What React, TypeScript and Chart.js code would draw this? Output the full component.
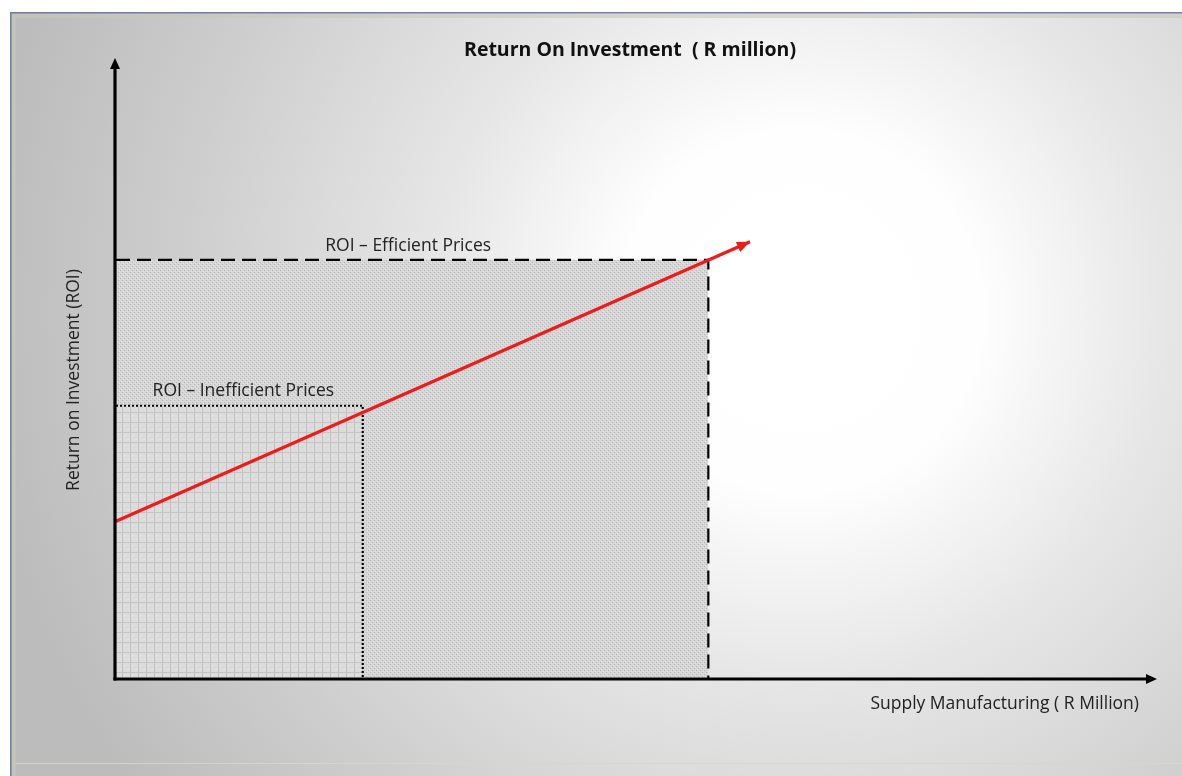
import React, { useEffect, useRef } from "react";
import { Chart, registerables } from "chart.js";
Chart.register(...registerables);

// ---- data (axis units 0..100) ----
const xEfficient = [0, 56.9, 56.9];
const yEfficient = [67.5, 67.5, 0];
const xInefficient = [0, 23.7, 23.7];
const yInefficient = [44, 44, 0];
const xRoiLine = [0, 60.9];
const yRoiLine = [25.4, 70.4];
const axisMin = [0, 0];
const axisMax = [100, 100];

const titleText = "Return On Investment  ( R million)";
const xAxisLabel = "Supply Manufacturing ( R Million)";
const yAxisLabel = "Return on Investment (ROI)";
const efficientLabel = "ROI – Efficient Prices";
const inefficientLabel = "ROI – Inefficient Prices";

const FONT = "'Open Sans', Lato, 'DejaVu Sans', sans-serif";

function makeDotPattern(): CanvasPattern | string {
  const c = document.createElement("canvas");
  c.width = 4;
  c.height = 4;
  const g = c.getContext("2d");
  if (!g) return "#d6d6d6";
  g.fillStyle = "#d6d6d6";
  g.fillRect(0, 0, 4, 4);
  g.fillStyle = "#b8b8b8";
  g.fillRect(0, 0, 1, 1);
  g.fillRect(2, 2, 1, 1);
  g.fillStyle = "#e4e4e4";
  g.fillRect(1, 3, 1, 1);
  g.fillRect(3, 1, 1, 1);
  return g.createPattern(c, "repeat") || "#d6d6d6";
}

function makeGridPattern(): CanvasPattern | string {
  const c = document.createElement("canvas");
  c.width = 8;
  c.height = 10;
  const g = c.getContext("2d");
  if (!g) return "#dcdcdc";
  g.fillStyle = "#dcdcdc";
  g.fillRect(0, 0, 8, 10);
  g.fillStyle = "#c0c0c0";
  g.fillRect(0, 0, 1, 10);
  g.fillStyle = "#c4c4c4";
  g.fillRect(0, 0, 8, 1);
  g.fillStyle = "#cecece";
  g.fillRect(4, 5, 1, 1);
  g.fillStyle = "#e8e8e8";
  g.fillRect(2, 3, 1, 1);
  g.fillRect(6, 7, 1, 1);
  return g.createPattern(c, "repeat") || "#dcdcdc";
}

function toPoints(xs: number[], ys: number[]) {
  return xs.map((x, i) => ({ x, y: ys[i] }));
}

const decorPlugin = {
  id: "decor",
  beforeDraw(chart: any) {
    const { ctx, width, height } = chart;
    ctx.save();
    const cx = 790;
    const cy = 300;
    const grad = ctx.createRadialGradient(cx, cy, 0, cx, cy, 820);
    grad.addColorStop(0, "#ffffff");
    grad.addColorStop(0.22, "#fefefe");
    grad.addColorStop(0.45, "#e6e6e6");
    grad.addColorStop(0.75, "#cecece");
    grad.addColorStop(1, "#bcbcbc");
    ctx.fillStyle = grad;
    ctx.fillRect(0, 0, width, height);
    // frame
    ctx.strokeStyle = "rgba(215,215,200,0.9)";
    ctx.lineWidth = 1;
    ctx.beginPath();
    ctx.moveTo(4.5, height - 12.5);
    ctx.lineTo(width, height - 12.5);
    ctx.stroke();
    ctx.strokeStyle = "rgba(200,200,185,0.6)";
    ctx.lineWidth = 4;
    ctx.beginPath();
    ctx.moveTo(4, height);
    ctx.lineTo(4, 4);
    ctx.lineTo(width, 4);
    ctx.stroke();
    ctx.strokeStyle = "#6f7f9c";
    ctx.lineWidth = 1.5;
    ctx.beginPath();
    ctx.moveTo(0.75, height);
    ctx.lineTo(0.75, 0.75);
    ctx.lineTo(width, 0.75);
    ctx.stroke();
    ctx.restore();
  },
  afterDatasetsDraw(chart: any) {
    const { ctx, chartArea } = chart;
    const { left, right, top, bottom } = chartArea;
    ctx.save();
    ctx.fillStyle = "#000";
    ctx.strokeStyle = "#000";
    ctx.lineWidth = 3.2;
    ctx.lineCap = "butt";
    // y axis
    ctx.beginPath();
    ctx.moveTo(left - 1, bottom + 1.5);
    ctx.lineTo(left - 1, top + 8);
    ctx.stroke();
    ctx.beginPath();
    ctx.moveTo(left - 1, top);
    ctx.lineTo(left - 6, top + 11);
    ctx.lineTo(left + 4, top + 11);
    ctx.closePath();
    ctx.fill();
    // x axis
    ctx.beginPath();
    ctx.moveTo(left - 2.5, bottom);
    ctx.lineTo(right - 8, bottom);
    ctx.stroke();
    ctx.beginPath();
    ctx.moveTo(right, bottom);
    ctx.lineTo(right - 11, bottom - 5);
    ctx.lineTo(right - 11, bottom + 5);
    ctx.closePath();
    ctx.fill();

    // arrow head on ROI line
    const meta = chart.getDatasetMeta(0);
    const pts = meta.data;
    if (pts.length >= 2) {
      const a = pts[pts.length - 2];
      const b = pts[pts.length - 1];
      const ang = Math.atan2(b.y - a.y, b.x - a.x);
      const len = 13;
      const half = 5.5;
      ctx.fillStyle = "#ec1c1c";
      ctx.beginPath();
      ctx.moveTo(b.x, b.y);
      ctx.lineTo(
        b.x - len * Math.cos(ang) + half * Math.sin(ang),
        b.y - len * Math.sin(ang) - half * Math.cos(ang)
      );
      ctx.lineTo(
        b.x - len * Math.cos(ang) - half * Math.sin(ang),
        b.y - len * Math.sin(ang) + half * Math.cos(ang)
      );
      ctx.closePath();
      ctx.fill();
    }
    ctx.restore();
  },
  afterDraw(chart: any) {
    const { ctx, chartArea, scales } = chart;
    const xs = scales.x;
    const ys = scales.y;
    ctx.save();
    ctx.fillStyle = "#111";
    // title
    ctx.font = "bold 19.5px " + FONT;
    ctx.textAlign = "center";
    ctx.textBaseline = "middle";
    ctx.fillText(titleText, 630 - 10, 38);
    // rect labels
    ctx.fillStyle = "#222";
    ctx.font = "17.5px " + FONT;
    ctx.textBaseline = "alphabetic";
    ctx.fillText(
      efficientLabel,
      (xs.getPixelForValue(xEfficient[0]) + xs.getPixelForValue(xEfficient[1])) / 2 - 4,
      ys.getPixelForValue(yEfficient[0]) - 9
    );
    ctx.fillText(
      inefficientLabel,
      (xs.getPixelForValue(xInefficient[0]) + xs.getPixelForValue(xInefficient[1])) / 2 + 4,
      ys.getPixelForValue(yInefficient[0]) - 10
    );
    // x axis label
    ctx.textAlign = "right";
    ctx.textBaseline = "middle";
    ctx.fillText(xAxisLabel, chartArea.right - 18, chartArea.bottom + 25);
    // y axis label
    ctx.translate(chartArea.left - 42, 380 - 12);
    ctx.rotate(-Math.PI / 2);
    ctx.textAlign = "center";
    ctx.fillText(yAxisLabel, 0, 0);
    ctx.restore();
  },
};

export default function App() {
  const ref = useRef<HTMLCanvasElement | null>(null);
  useEffect(() => {
    if (!ref.current) return;
    const chart = new Chart(ref.current, {
      type: "line",
      data: {
        datasets: [
          {
            label: "ROI",
            data: toPoints(xRoiLine, yRoiLine),
            borderColor: "#ec1c1c",
            borderWidth: 3.2,
            pointRadius: 0,
            fill: false,
            order: 0,
            clip: false as any,
          },
          {
            label: "Inefficient",
            data: toPoints(xInefficient, yInefficient),
            borderColor: "#000",
            borderWidth: 2.2,
            borderDash: [2, 2],
            backgroundColor: makeGridPattern() as any,
            pointRadius: 0,
            fill: "origin",
            order: 1,
            clip: false as any,
          },
          {
            label: "Efficient",
            data: toPoints(xEfficient, yEfficient),
            borderColor: "#000",
            borderWidth: 2.2,
            borderDash: [14, 7],
            backgroundColor: makeDotPattern() as any,
            pointRadius: 0,
            fill: "origin",
            order: 2,
            clip: false as any,
          },
        ],
      },
      options: {
        animation: false,
        responsive: true,
        maintainAspectRatio: false,
        layout: { padding: { left: 106, right: 25, top: 46, bottom: 97 } },
        plugins: {
          legend: { display: false },
          tooltip: { enabled: false },
          title: { display: false },
        },
        scales: {
          x: { type: "linear", min: axisMin[0], max: axisMax[0], display: false },
          y: { type: "linear", min: axisMin[1], max: axisMax[1], display: false },
        },
      },
      plugins: [decorPlugin],
    });
    return () => chart.destroy();
  }, []);
  return (
    <div style={{ position: "absolute", left: 10, top: 12, width: 1172, height: 764 }}>
      <canvas ref={ref} />
    </div>
  );
}
